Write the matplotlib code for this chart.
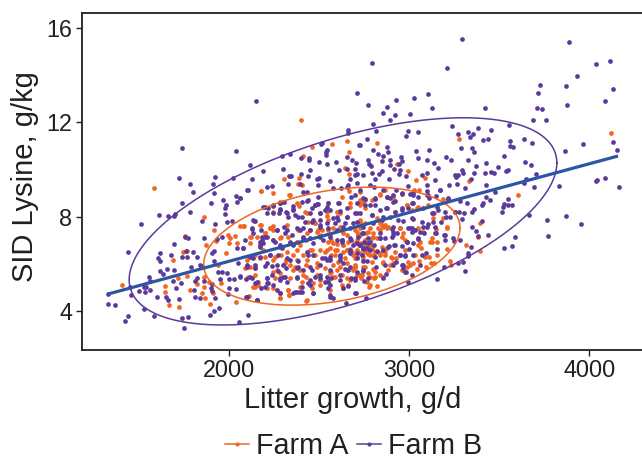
# -----------------------------------------------------------------------------
# Import The Libraries
# -----------------------------------------------------------------------------
import numpy as np
import matplotlib
matplotlib.use('Agg')
import matplotlib.pyplot as plt
from matplotlib.lines import Line2D

plt.rcParams['font.family'] = ['Liberation Sans', 'DejaVu Sans']

# -----------------------------------------------------------------------------
# Data: (litter growth, SID lysine)
# -----------------------------------------------------------------------------
farm_a = [
    (2399,12.08),(2458,10.95),(2569,11.07),(2653,11.19),(2667,10.76),(2412,10.57),(2643,10.07),(2664,9.8),
    (2304,9.59),(2388,9.62),(2822,11.13),(3274,11.27),(4121,11.54),(2933,10.23),(2991,9.93),(3087,9.65),
    (3037,9.56),(1582,9.21),(1860,7.97),(1915,7.43),(1754,7.18),(1873,6.8),(1741,6.5),(1764,6.56),
    (1690,6.15),(1938,5.95),(1404,5.12),(1717,5.41),(1767,5.5),(1860,5.43),(1886,5.24),(1819,5.16),
    (1641,5.07),(1645,4.82),(1782,4.89),(1860,5.0),(1912,4.78),(1847,4.75),(1864,4.57),(1665,4.25),
    (1719,4.16),(1893,4.31),(1954,5.17),(2040,4.38),(2112,4.62),(2177,9.1),(2241,9.01),(2030,7.18),
    (1991,7.23),(2060,7.6),(2080,7.62),(1925,6.97),(2004,7.08),(2001,6.87),(1982,6.44),
    (3604,8.91),(3332,9.51),(3028,9.15),(3056,9.13),(2911,8.84),(2837,8.91),(3185,8.73),(2985,8.49),
    (3041,8.35),(3106,8.49),(3137,8.14),(3185,7.93),(3393,7.74),(3208,7.54),(3148,7.46),(3315,6.81),
    (3382,7.12),(3391,6.53),(3208,6.61),(3126,7.08),(3115,6.91),(3156,6.94),(3050,6.8),(3065,6.66),
    (3156,6.36),(3087,6.3),(3109,6.27),(3226,6.12),(3230,5.95),(3119,6.02),(3137,6.02),(3091,5.88),
    (3056,6.1),(3022,6.02),(2995,6.06),(3041,5.77),(2985,5.85),(2896,6.27),(2924,6.26),(2856,6.02),
    (2893,5.95),(2882,5.74),(2837,5.53),(2800,5.77),(2806,5.38),(2754,5.85),(2730,5.38),(2782,5.1),
    (2819,5.06),(2776,5.0),(2948,7.5),(2967,7.29),(2976,7.01),(2865,7.64),(2846,7.64),(2883,7.57),
    (3050,7.5),(2819,7.08),(2754,7.01),(2732,6.9),(2782,6.8),(2856,6.58),(2874,6.66),(2837,6.44),
    (2800,6.37),(2772,6.41),(2920,6.51),(2754,7.71),(2726,7.86),(2745,8.56),(2726,8.63),(2726,9.06),
    (2976,6.58),
    (2121,7.15),(2153,7.15),(2199,7.29),(2245,7.43),(2282,7.08),(2328,7.15),(2375,6.94),(2430,7.29),
    (2495,7.43),(2551,7.86),(2597,8.21),(2551,7.43),(2634,7.29),(2699,7.43),
    (2116,5.88),(2143,5.81),(2190,6.58),(2245,6.16),(2264,5.74),(2319,6.51),(2375,6.16),(2393,5.74),
    (2430,6.16),(2486,5.88),(2541,6.58),(2597,6.58),(2653,6.58),(2699,6.87),(2723,6.8),
    (2162,5.1),(2245,4.96),(2282,4.75),(2328,4.89),(2393,5.03),(2430,4.47),(2467,5.17),(2560,5.6),
    (2597,5.74),(2653,5.74),(2699,5.88),
    (2338,6.87),(2393,6.8),(2449,6.58),(2504,6.58),(2579,6.87),(2634,6.8),(2680,6.51),
    (2245,5.67),(2282,5.6),(2356,5.74),(2412,5.53),(2486,5.53),(2551,5.31),(2625,5.1),(2662,5.1),
    (2097,6.16),(2088,5.81),(2041,6.87),(2282,4.54),(2143,5.03),(2334,4.68),
    (2375,8.56),(2430,8.14),(2477,7.71),(2541,8.21),(2616,8.14),(2671,8.42),(2338,8.91),(2384,9.38),
    (2403,9.34),(2667,9.1),(2727,8.7),(2449,7.43),(2514,7.43),(2384,7.43),(2319,7.64),(2227,7.5),(2171,7.64),
    (2174,9.1),(2244,8.18),(2281,8.63),(2300,8.63),(2333,8.92),(2389,8.46),(2420,8.21),(2439,7.79),
    (2476,7.72),(2541,8.04),(2550,8.56),(2624,8.85),(2670,8.56),(2078,7.62),(2137,7.81),(2174,7.65),
    (2226,7.5),(2244,7.62),(2290,7.15),(2115,7.15),(2198,7.29),(2485,7.36),(2503,7.22),(2429,7.01),
    (2374,6.94),(2559,7.22),(2652,7.22),(2707,7.36),(2707,7.01),(2550,6.94),(2115,6.87),(2244,7.01),
    (2198,6.31),(2253,6.31),(2290,6.38),(2318,6.16),(2355,6.38),(2411,6.38),(2476,6.38),(2531,6.52),
    (2587,6.38),(2642,6.24),(2698,6.24),(2142,6.38),(2170,6.24),(2374,6.59),(2457,6.59),(2559,6.66),
    (2652,6.59),(2707,6.59),(2365,5.88),(2429,5.95),(2485,6.02),(2531,5.81),(2615,5.88),(2698,5.88),
    (2337,5.95),(2309,6.02),(2142,5.53),(2253,5.39),(2337,5.39),(2429,5.46),(2503,5.32),(2652,5.39),
    (2578,5.46),(2707,5.53),(2133,5.03),(2207,4.96),(2328,4.89),(2402,5.25),(2503,5.11),(2633,4.96),
    (2281,4.75),(2281,4.54),(2429,4.43),(2333,4.68),(2105,5.46),(2161,5.25),(2559,4.89),(2457,4.96),
    (2837,8.94),(2865,9.13),(2754,8.7),(2754,8.35),(2791,8.7),(2726,8.49),(2985,8.49),(3050,8.42),
    (3013,8.28),(2920,8.21),(3133,7.93),(2837,7.72),(2856,7.57),(2837,7.43),(2874,7.5),(2782,7.5),
    (2800,7.15),(2948,7.5),(2957,7.15),(2985,6.94),(3207,7.57),(3078,7.36),(3124,6.94),(2726,7.79),
    (2819,7.93),(3059,6.94),(2726,7.22),(2759,7.29),(2791,6.66),(2754,6.51),(2809,6.51),(2846,6.73),
    (2865,6.37),(2791,6.09),(2745,6.16),(2856,6.09),(2772,5.6),(2735,5.53),(2809,5.46),
    (2578,7.5),(2615,7.57),(2568,7.0),(2596,6.86),(2633,6.79),(2661,6.93),(2670,6.65),(2633,6.51),
    (2587,6.58),(2568,6.37),(2726,6.44),(2763,6.58),(2781,6.37),(2753,6.79),(2791,6.65),(2818,6.51),
    (2837,6.37),(2865,6.51),(2744,6.3),(2707,6.3),(2689,6.37),(2800,7.29),(2772,7.36),(2791,7.08),
    (2726,7.5),(2716,7.22),(2828,7.5),(2578,5.95),(2605,6.09),(2652,6.02),(2698,5.95),(2689,5.73),
    (2726,5.52),(2781,5.45),(2744,5.87),(2587,5.45),(2624,5.52),(2670,5.31),(2568,5.66),(2763,5.24),
    (2809,5.66),(2855,5.45),(2911,6.02),(2957,5.73),(3003,5.95),(2902,6.23),(3031,6.37),
]

farm_b = [
    (2151,12.9),(2708,13.22),(1740,10.89),(2036,10.78),(2662,11.67),(2658,11.53),(2723,11.02),(2517,11.13),
    (2508,11.07),(2291,10.59),(2338,10.65),(2543,10.82),(2536,10.76),(2540,10.62),(2397,10.47),(2443,10.5),
    (2443,10.38),(2654,10.52),(2680,10.41),(2702,10.27),(2117,10.17),(2499,10.3),(2541,10.25),(2593,10.31),
    (2301,10.01),(2447,9.97),(2610,9.96),(2656,10.01),(2701,10.0),(2188,9.92),(2401,9.79),(2334,9.72),
    (2341,9.72),(2440,9.72),(2697,9.75),(2712,9.82),(1721,9.62),(1919,9.69),(2023,9.62),(2125,9.59),
    (2501,9.65),(2486,9.59),(2671,9.59),
    (3293,15.52),(3887,15.38),(2791,14.5),(3209,14.32),(4035,14.45),(4113,14.59),(3930,13.94),(3728,13.6),
    (3872,13.52),(3713,13.22),(4134,13.42),(3106,13.18),(3024,13.01),(2924,12.95),(2770,12.75),(2874,12.63),
    (3126,12.6),(3420,12.6),(4089,12.92),(3876,12.73),(3708,12.61),(3737,12.57),(2856,12.39),(2920,12.29),
    (3002,12.34),(2893,12.08),(3689,12.09),(3761,12.1),(2796,11.94),(3237,11.86),(3556,11.89),(3382,11.75),
    (3454,11.67),(2817,11.65),(2995,11.62),(3050,11.58),(2982,11.43),(3328,11.58),(3352,11.51),(3272,11.5),
    (3335,11.37),(3435,11.31),(3411,11.26),(2767,11.27),(3561,11.2),(3637,11.29),(3682,11.12),(3965,11.09),
    (4134,11.16),(2726,11.03),(2876,10.95),(3289,10.93),(3346,10.93),(3559,10.98),(3576,10.96),(2798,10.82),
    (2883,10.76),(3035,10.79),(3109,10.82),(3359,10.75),(3865,10.78),(4152,10.81),(2828,10.64),(2856,10.57),
    (2954,10.52),(3050,10.5),(3204,10.52),(3524,10.55),(2770,10.42),(2893,10.41),(3096,10.38),(3232,10.4),
    (3326,10.38),(2846,10.34),(2957,10.34),(2941,10.25),(3135,10.28),(3428,10.27),(3641,10.3),(3678,10.2),
    (2774,10.23),(2787,10.16),(2891,10.18),(3372,10.16),(3158,10.06),(2915,10.03),(2946,9.97),(3493,10.1),
    (3550,9.97),(3539,9.93),(3295,9.96),(2795,9.86),(2848,9.93),(2832,9.82),(2943,9.8),(3096,9.87),
    (3359,9.83),(3420,9.87),(3454,9.9),(3472,9.87),(3300,9.83),(2745,9.75),(2980,9.73),(3070,9.75),
    (3252,9.76),(3269,9.76),(3259,9.68),(3704,9.82),(2809,9.58),(2885,9.58),(3141,9.56),(3341,9.6),
    (3648,9.59),(4087,9.65),(4041,9.55),
    (1780,9.37),(1908,9.37),(1801,9.04),(1914,9.01),(1738,8.59),(1899,8.59),(2038,8.86),(2062,8.77),
    (1967,8.7),(2045,8.6),(1982,8.49),(1975,8.35),(2103,9.11),(1610,8.08),(1660,8.03),(1699,8.1),
    (1695,8.03),(1782,8.18),(1977,8.1),(1847,7.81),(1990,7.76),(2015,7.8),(1919,7.67),(1508,7.67),
    (2141,7.83),(1754,7.15),(1769,7.08),(1860,7.11),(1960,7.12),(1934,7.04),(1693,6.84),(1440,6.51),
    (1614,6.44),(1678,6.39),(1797,6.5),(1760,6.56),(1740,6.3),(1764,6.27),(1819,6.27),(1904,6.44),
    (1914,6.56),(1604,6.25),(1617,6.12),(1917,6.1),(1838,5.94),(1851,5.91),(1788,5.88),(1656,5.79),
    (1615,5.71),(1630,5.58),(1691,5.74),(1936,5.65),(1962,5.65),(1986,5.6),(1556,5.43),(1558,5.29),
    (1823,5.41),(1686,5.29),(1949,5.34),(1999,5.34),(2027,5.34),(2060,5.48),(2093,5.34),(1810,5.26),
    (1862,5.26),(1906,5.16),(1732,5.17),(1447,5.02),(1527,5.03),(1538,5.0),(1501,4.86),(1534,4.81),
    (1560,4.88),(1706,4.99),(1803,4.89),(1897,4.96),(1903,4.86),(1999,4.97),(2038,4.95),(1452,4.69),
    (1325,4.72),(1599,4.61),(1649,4.58),(1662,4.48),(1723,4.51),(1808,4.58),(1838,4.55),(1919,4.57),
    (1993,4.73),(2095,4.58),(2154,4.47),(1328,4.3),(1367,4.27),(1527,4.07),(1943,4.11),(1914,4.0),
    (1891,3.83),(1582,3.79),(1436,3.79),(1423,3.58),(1740,3.7),(1773,3.76),(1749,3.28),(2103,3.85),
    (2054,3.53),(2647,4.33),(2703,4.78),
    (2208,9.24),(2236,9.31),(2327,9.38),(2393,9.38),(2495,9.34),(2560,9.51),(2662,9.34),(2708,9.41),
    (2408,9.06),(2430,9.06),(2575,9.2),(2619,9.2),(2190,8.39),(2245,8.45),(2282,8.56),(2304,8.63),
    (2356,8.31),(2430,8.67),(2477,8.49),(2495,8.53),(2551,8.56),(2606,8.56),(2653,8.35),(2708,8.56),
    (2134,7.86),(2208,8.14),(2245,8.14),(2282,8.28),(2319,8.14),(2384,8.0),(2467,7.86),(2504,8.14),
    (2560,8.28),(2597,8.0),(2653,8.0),(2699,8.14),(2125,7.46),(2180,7.15),(2199,7.15),(2264,7.43),
    (2319,7.43),(2393,7.43),(2458,7.78),(2504,7.64),(2541,7.71),(2588,7.71),(2643,7.71),(2690,7.71),
    (2180,7.01),(2171,6.8),(2245,7.01),(2282,6.8),(2291,6.66),(2356,6.8),(2412,7.15),(2449,7.08),
    (2504,7.15),(2560,7.15),(2625,7.01),(2671,7.08),(2717,7.15),(2041,6.66),(2078,6.66),(2116,6.3),
    (2134,6.23),(2171,6.3),(2227,6.37),(2273,6.37),(2319,6.23),(2430,6.51),(2467,6.37),(2532,6.23),
    (2560,6.16),(2616,6.3),(2708,6.44),(2051,6.02),(2097,5.88),(2143,5.95),(2208,6.02),(2264,5.95),
    (2301,5.95),(2384,5.88),(2449,5.88),(2504,5.95),(2541,6.16),(2634,6.02),(2671,5.88),(2116,5.46),
    (2153,5.24),(2208,5.38),(2217,5.17),(2282,5.31),(2301,5.46),(2375,5.46),(2449,5.31),(2504,5.38),
    (2541,5.46),(2616,5.53),(2708,5.67),(2199,5.03),(2264,4.89),(2319,5.24),(2375,4.82),(2403,4.82),
    (2449,5.1),(2532,5.24),(2560,5.1),(2634,4.96),(2699,5.31),(2097,4.58),(2153,4.47),(2282,4.75),
    (2356,4.78),(2467,4.75),(2560,4.68),(2579,4.54),(2662,5.06),
    (3830,9.3),(4039,9.51),(4165,9.24),(3693,9.27),(3637,9.41),(3474,9.06),(3424,8.84),(3448,8.7),
    (3546,8.73),(3528,8.52),(3570,8.51),(3522,8.39),(3548,8.48),(3515,8.18),(3663,8.08),(3872,8.01),
    (3767,7.86),(3952,7.67),(3772,7.16),(3585,7.15),(3572,6.77),(3524,6.67),(3406,7.8),(3348,7.57),
    (3372,7.38),(3382,7.19),(3435,7.21),(3343,6.7),(3328,6.44),(3328,6.33),(3270,6.03),(3300,6.08),
    (3307,5.68),(3193,5.85),(3156,5.36),(2993,5.23),(2757,4.57),(3291,7.88),(3361,8.31),(3350,8.19),
    (3322,8.59),(3402,8.49),(3411,8.56),(3254,8.18),(3278,8.18),(3304,8.15),(3213,8.76),(3282,8.67),
    (3148,8.87),(3170,9.13),(3096,9.34),(3098,9.1),(3222,9.34),(3263,9.37),(3309,9.23),(3424,9.34),
    (2991,9.28),(2924,9.13),(2852,9.13),(2782,9.34),(2804,9.27),(2957,8.94),(3004,8.96),(3022,9.01),
    (3050,8.82),(3102,8.91),(3111,8.77),(2754,8.73),(2809,8.73),(2874,8.84),(2893,8.8),(2919,8.66),
    (3013,8.56),(2957,8.38),(2995,8.35),(3161,8.28),(3124,8.14),(3204,7.97),(2809,8.49),(2754,8.49),
    (2837,8.28),(2870,8.35),(2920,8.21),(2791,8.07),(2852,7.97),(2893,7.97),(2963,7.83),(3022,7.88),
    (3074,7.57),(3106,7.69),(3133,7.78),(3176,7.78),(3143,7.57),(3004,7.5),(3032,7.43),(2902,7.46),
    (2911,7.36),(3083,7.32),(3146,7.29),(3195,7.22),(3198,7.01),(3248,6.97),(3282,7.01),(3050,7.04),
    (3019,6.9),(2985,6.94),(2837,7.29),(2865,7.08),(2933,7.29),(2772,7.08),(2745,7.29),(2741,6.66),
    (2772,6.87),(2804,6.8),(2889,6.75),(2917,6.8),(2957,6.77),(3000,6.61),(2819,6.56),(2948,6.37),
    (2976,6.33),(3022,6.37),(3069,6.36),(3093,6.47),(3152,6.61),(2741,6.12),(2767,6.13),(2926,6.09),
    (2967,5.95),(2963,5.84),(2911,5.94),(3059,5.95),(2813,5.85),(2745,5.71),(2980,5.64),(2870,5.55),
    (2856,5.41),(3013,5.53),(2770,5.38),(2750,5.27),
    (2100,9.11),(2059,8.78),(2198,8.42),(2216,8.38),(2244,8.49),(2281,8.56),(2281,8.32),(2278,8.14),
    (2318,8.18),(2328,8.0),(2365,8.07),(2355,8.46),(2352,8.28),(2402,8.63),(2402,8.0),(2439,8.7),
    (2457,8.35),(2476,8.49),(2489,8.52),(2494,8.82),(2448,8.14),(2503,8.14),(2544,8.42),(2531,8.28),
    (2611,8.56),(2615,8.24),(2679,8.85),(2652,9.27),(2698,8.92),(2578,7.93),(2605,7.86),(2652,8.0),
    (2707,8.14),(2124,7.5),(2133,7.29),(2174,7.43),(2207,7.15),(2263,7.43),(2305,7.58),(2309,7.29),
    (2346,7.22),(2374,7.5),(2411,7.5),(2420,7.79),(2448,7.43),(2503,7.86),(2503,7.57),(2550,7.5),
    (2596,7.43),(2633,7.58),(2670,7.5),(2707,7.79),(2087,7.01),(2170,6.94),(2189,6.87),(2253,6.94),
    (2337,6.94),(2411,7.08),(2466,6.87),(2522,7.01),(2596,7.01),(2624,6.94),(2679,7.01),(2707,6.87),
    (2078,6.66),(2170,6.73),(2226,6.38),(2281,6.73),(2337,6.16),(2383,6.12),(2439,6.38),(2513,6.24),
    (2559,6.31),(2615,6.38),(2670,6.45),(2096,5.95),(2142,5.81),(2198,5.92),(2235,5.92),(2272,5.7),
    (2318,5.81),(2374,5.81),(2411,5.74),(2457,5.74),(2503,5.53),(2559,5.74),(2661,5.74),(2059,5.46),
    (2124,5.39),(2207,5.39),(2235,5.53),(2281,5.39),(2309,5.46),(2374,5.39),(2439,5.18),(2476,5.46),
    (2550,5.25),(2615,5.32),(2698,5.39),(2142,5.18),(2207,5.18),(2244,5.11),(2402,5.03),(2550,4.96),
    (2179,4.96),(2365,4.8),(2392,4.8),(2466,4.75),(2698,4.75),(2096,4.61),(2152,4.47),(2559,4.61),
    (2726,9.13),(2809,8.78),(2874,8.85),(2911,8.92),(2911,8.63),(2957,8.99),(3019,8.92),(3096,8.92),
    (3170,9.13),(3217,8.78),(2745,8.78),(2782,8.49),(2874,8.35),(2957,8.28),(3022,8.56),(3078,8.35),
    (3152,8.42),(3198,8.21),(3226,8.0),(2726,8.14),(2791,8.07),(2846,7.86),(2939,7.86),(3013,7.93),
    (3069,7.79),(3133,8.14),(3254,8.21),(2745,7.57),(2800,7.72),(2911,7.57),(2995,7.5),(3096,7.57),
    (3143,7.29),(3198,7.22),(3245,7.08),(2837,7.08),(2911,7.22),(3013,7.36),(3050,7.08),(2735,7.29),
    (2782,6.94),(2763,6.66),(2782,6.58),(2726,6.8),(2748,6.94),(2735,6.37),
    (2624,7.0),(2689,6.79),(2726,6.79),(2744,6.65),(2670,6.58),(2615,6.16),(2642,5.8),(2707,6.23),
    (2744,5.73),(2809,6.3),(2865,5.95),(2855,6.58),(2883,6.72),(2920,6.79),(2948,6.37),(2976,6.37),
    (2957,5.95),(2985,6.93),(2837,7.08),(2902,7.15),(3013,7.5),(2568,5.38),(2679,5.38),(2976,5.66),(3059,7.36),
]

# regression line ends and ellipse extents (centre x, half width, centre y, half height, phase in deg)
line_x = [1326, 4160]
line_y = [4.72, 10.57]
ellipse_a = (2570, 712, 6.75, 2.5, 72)
ellipse_b = (2632, 1188, 7.8, 4.39, 55.7)

x_ticks = [2000, 3000, 4000]
y_ticks = [4, 8, 12, 16]

orange = '#f26522'
purple = '#5b3a9b'
blue = '#2e55a4'
dark = '#231f20'

# -----------------------------------------------------------------------------
# Plot
# -----------------------------------------------------------------------------
fig = plt.figure(figsize=(6.42, 4.61), dpi=100)
ax = fig.add_axes([82 / 642, 1 - 349.5 / 461, 560 / 642, 336.5 / 461])

t = np.linspace(0, 2 * np.pi, 300)
for pts, ell, col in [(farm_a, ellipse_a, orange), (farm_b, ellipse_b, purple)]:
    arr = np.array(pts)
    ax.plot(arr[:, 0], arr[:, 1], 'o', ms=3.4, mew=0, color=col, zorder=2)
    cx, a, cy, b, phase = ell
    ax.plot(cx + a * np.cos(t), cy + b * np.cos(t - np.radians(phase)), color=col, lw=1.1, zorder=3)

ax.plot(line_x, line_y, color=blue, lw=2.3, solid_capstyle='butt', zorder=4)

ax.set_xlim(1182, 4293)
ax.set_ylim(2.37, 16.63)
ax.set_xticks(x_ticks)
ax.set_yticks(y_ticks)
ax.tick_params(labelsize=16.8, colors=dark, length=4.5, width=1, pad=2.5)
ax.set_xlabel('Litter growth, g/d', fontsize=21, color=dark, va='center')
ax.set_ylabel('SID Lysine, g/kg', fontsize=21, color=dark, va='center')
ax.xaxis.set_label_coords(0.483, -0.15)
ax.yaxis.set_label_coords(-0.102, 0.513)
ax.spines['right'].set_visible(False)
for s in ['left', 'bottom', 'top']:
    ax.spines[s].set_linewidth(1.3)
    ax.spines[s].set_color(dark)

handles = [
    Line2D([0], [0], color=orange, lw=1.1, marker='o', ms=3, mew=0),
    Line2D([0], [0], color=purple, lw=1.1, marker='o', ms=3, mew=0),
]
fig.legend(handles, ['Farm A', 'Farm B'], ncol=2, frameon=False, fontsize=20.6,
           labelcolor=dark, loc='center', bbox_to_anchor=(353.5 / 642, 1 - 446 / 461),
           handlelength=0.84, handletextpad=0.25, columnspacing=0.28)

fig.savefig('out.png', dpi=100)
